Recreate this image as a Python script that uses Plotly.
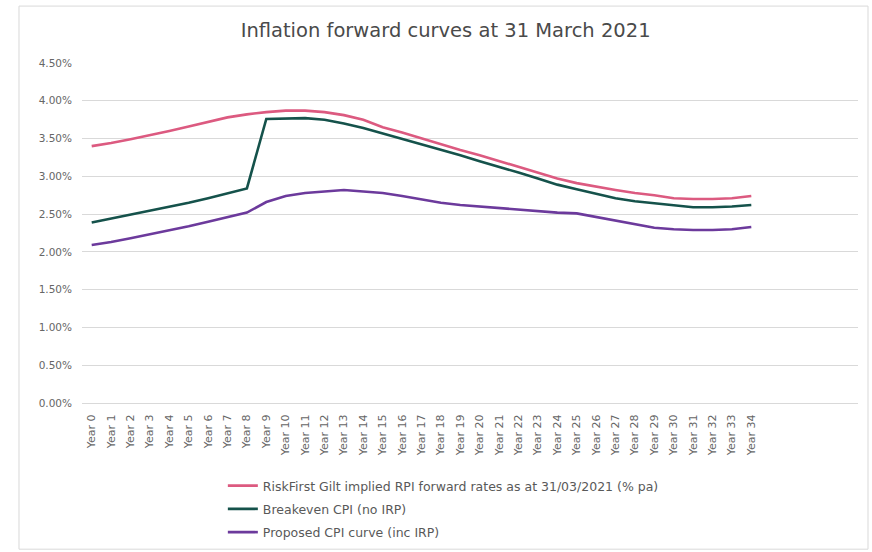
import plotly.graph_objects as go

years = list(range(35))
year_labels = [f"Year {i}" for i in years]

rpi_forward = [3.40, 3.44, 3.49, 3.54, 3.60, 3.66, 3.72, 3.78, 3.82, 3.85,
               3.87, 3.87, 3.85, 3.81, 3.75, 3.65, 3.58, 3.50, 3.42, 3.35,
               3.28, 3.20, 3.12, 3.04, 2.97, 2.91, 2.86, 2.82, 2.78, 2.75,
               2.71, 2.70, 2.70, 2.71, 2.74]
breakeven_cpi = [2.39, 2.44, 2.49, 2.54, 2.60, 2.65, 2.71, 2.78, 2.84, 3.76,
                 3.77, 3.77, 3.75, 3.70, 3.64, 3.57, 3.50, 3.42, 3.35, 3.28,
                 3.20, 3.13, 3.05, 2.97, 2.89, 2.83, 2.77, 2.71, 2.67, 2.64,
                 2.61, 2.59, 2.59, 2.60, 2.62]
proposed_cpi = [2.09, 2.13, 2.18, 2.23, 2.28, 2.34, 2.40, 2.46, 2.52, 2.66,
                2.74, 2.78, 2.80, 2.82, 2.80, 2.78, 2.74, 2.69, 2.65, 2.62,
                2.60, 2.58, 2.56, 2.54, 2.52, 2.51, 2.46, 2.41, 2.36, 2.32,
                2.30, 2.29, 2.29, 2.30, 2.33]

y_ticks = [0, 0.5, 1.0, 1.5, 2.0, 2.5, 3.0, 3.5, 4.0, 4.5]
y_tick_labels = [f"{v:.2f}%" for v in y_ticks]

series = [
    ("RiskFirst Gilt implied RPI forward rates as at 31/03/2021 (% pa)", rpi_forward, "#DC5A80"),
    ("Breakeven CPI (no IRP)", breakeven_cpi, "#15524B"),
    ("Proposed CPI curve (inc IRP)", proposed_cpi, "#6C3A9C"),
]

fig = go.Figure()
for i, (name, vals, col) in enumerate(series):
    fig.add_trace(go.Scatter(x=years, y=vals, mode="lines", name=name,
                             legendgroup=f"g{i}",
                             line=dict(color=col, width=2.6)))

font_family = "DejaVu Sans, Verdana, sans-serif"
fig.update_layout(
    width=872, height=552,
    margin=dict(l=82, r=14, t=63, b=148.5, pad=0, autoexpand=False),
    paper_bgcolor="white", plot_bgcolor="white",
    font=dict(family=font_family, color="#595959", size=11),
    title=dict(text="Inflation forward curves at 31 March 2021",
               xref="container", x=0.511, xanchor="center",
               y=0.945, yanchor="middle",
               font=dict(size=19.5, color="#4a4a4a")),
    showlegend=True,
    legend=dict(x=0.1815, y=-0.2, xanchor="left", yanchor="top",
                orientation="v", tracegroupgap=4,
                font=dict(size=12.5, color="#595959"),
                bgcolor="rgba(0,0,0,0)"),
    xaxis=dict(range=[-0.5, 39.5], tickmode="array", tickvals=years,
               ticktext=year_labels, tickangle=-90,
               tickfont=dict(size=11, color="#666666"),
               ticklabelstandoff=6,
               showgrid=False, showline=True, linecolor="#D9D9D9",
               linewidth=1, zeroline=False, ticks=""),
    yaxis=dict(range=[0, 4.5], tickmode="array", tickvals=y_ticks,
               ticktext=y_tick_labels, ticklabelstandoff=9,
               showgrid=True, gridcolor="#D9D9D9", gridwidth=1,
               zeroline=False, showline=False, ticks="",
               tickfont=dict(size=10.5, color="#666666")),
    shapes=[dict(type="rect", xref="paper", yref="paper",
                 x0=-0.0812, x1=1.0129, y0=-0.43, y1=1.1674,
                 line=dict(color="#D9D9D9", width=1), fillcolor="rgba(0,0,0,0)",
                 layer="below")],
)

fig.write_html("out.html")
